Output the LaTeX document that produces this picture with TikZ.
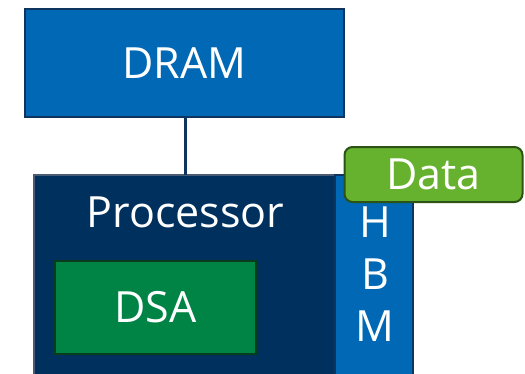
\documentclass[tikz,border=0pt]{standalone}
\usepackage{fontspec}
\setmainfont{Open Sans}
\definecolor{dramblue}{HTML}{0068B4}
\definecolor{navyedge}{HTML}{0E355F}
\definecolor{procnavy}{HTML}{00305E}
\definecolor{procedge}{HTML}{4A5C74}
\definecolor{datagreen}{HTML}{66B22E}
\definecolor{dataedge}{HTML}{2C5216}
\definecolor{dsagreen}{HTML}{008445}
\definecolor{dsaedge}{HTML}{083D1C}
\tikzset{
  x=1pt, y=-1pt,
  bigtext/.style={text=white, font=\fontsize{43}{52}\selectfont},
  box/.style={draw, inner sep=0pt, outer sep=0pt, bigtext, text height=30.5pt, text depth=0pt},
  link/.style={draw=navyedge, line width=3pt},
}
\begin{document}
\begin{tikzpicture}
  \useasboundingbox (0,0) rectangle (525,373);
  \clip (0,0) rectangle (525,373);
  % memory on top
  \node[box, fill=dramblue, draw=navyedge, line width=2pt,
        minimum width=319pt, minimum height=108pt] (dram) at (184.5,63) {DRAM};
  % processor package, running off the bottom edge
  \node[box, fill=procnavy, draw=procedge, line width=1.5pt,
        minimum width=301pt, minimum height=240pt] (proc) at (184.5,295) {};
  \node[bigtext, anchor=base, inner sep=0pt] (proclabel) at (185.5,227) {Processor};
  % stacked memory beside the processor
  \node[box, fill=dramblue, draw=navyedge, line width=1.5pt,
        minimum width=78pt, minimum height=240pt] (hbm) at (374,295) {};
  \node[bigtext, align=center, inner sep=0pt] (hbmlabel) at (375,274.5) {H\\B\\M};
  % accelerator inside the processor
  \node[box, fill=dsagreen, draw=dsaedge, line width=2.5pt,
        minimum width=201pt, minimum height=93pt] (dsa) at (155.5,307.5) {DSA};
  % data tag
  \node[box, fill=datagreen, draw=dataedge, line width=2pt, rounded corners=8pt,
        minimum width=178pt, minimum height=55pt] (data) at (433.5,174.5) {Data};
  % connection from memory to processor
  \draw[link] (dram.south -| 185,0) -- (proc.north -| 185,0);
\end{tikzpicture}
\end{document}
